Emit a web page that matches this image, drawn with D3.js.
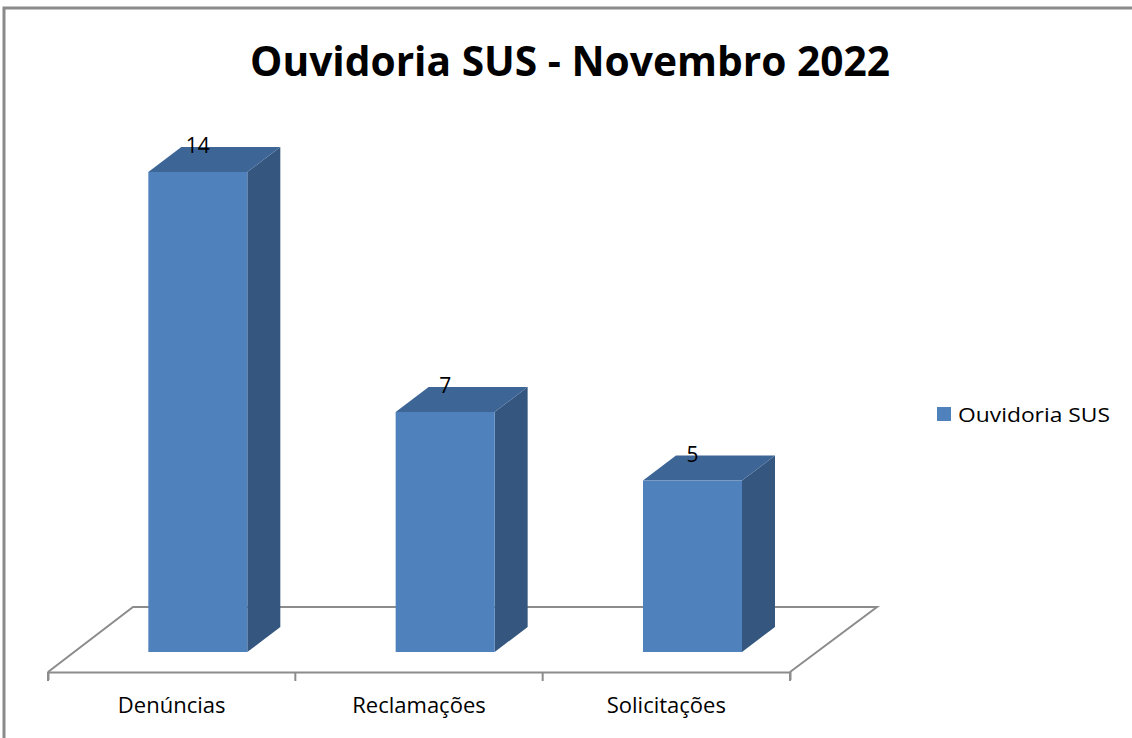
<!DOCTYPE html>
<html><head><meta charset="utf-8">
<script src="https://cdn.jsdelivr.net/npm/d3@7"></script>
<style>body{margin:0;background:#fff}svg{display:block}</style>
</head><body>
<svg id="c" width="1132" height="738"></svg>
<script>
const categories = ["Denúncias", "Reclamações", "Solicitações"];
const values = [14, 7, 5];
const seriesName = "Ouvidoria SUS";
const title = "Ouvidoria SUS - Novembro 2022";

const svg = d3.select("#c");
const font = "Open Sans, Liberation Sans, sans-serif";
// border
svg.append("path").attr("d","M4,1000 V8 H1140").attr("fill","none").attr("stroke","#8a8a8a").attr("stroke-width",3);

// floor geometry
const fx0 = 48, fx1 = 790, fy = 672, fdx = 85, fdy = -65;
const xa = d3.scaleBand().domain(categories).range([fx0, fx1]);
const baseY = 652, frac = 20/65;
const shiftX = fdx*frac;
const y = d3.scaleLinear().domain([0, 14]).range([baseY, 172]);
const bdx = 33, bdy = -25;

// floor
svg.append("path")
  .attr("d", `M${fx0},${fy} L${fx0+fdx},${fy+fdy} L${fx1+fdx+2},${fy+fdy} L${fx1},${fy}`)
  .attr("fill","none").attr("stroke","#8c8c8c").attr("stroke-width",2);
// axis
const axis = d3.axisBottom(xa).tickSize(8).tickSizeOuter(8).tickFormat(d=>d);
const ag = svg.append("g").attr("transform",`translate(0,${fy})`).call(axis);
ag.select(".domain").attr("stroke","#8c8c8c").attr("stroke-width",2);
ag.selectAll(".tick line").remove();
const tickXs = [0,1,2,3].map(i => fx0 + i*xa.step());
ag.selectAll(".tk").data(tickXs).join("line").attr("class","tk")
  .attr("x1",d=>d).attr("x2",d=>d).attr("y1",0).attr("y2",9)
  .attr("stroke","#8c8c8c").attr("stroke-width",2);
ag.selectAll(".tick text").attr("font-family",font).attr("font-size",22).attr("fill","#000").attr("dy","0").attr("y",41);

// bars
const bw = 99;
const g = svg.append("g");
values.forEach((v,i)=>{
  const cx = xa(categories[i]) + xa.bandwidth()/2 + shiftX;
  const x0 = cx - bw/2, x1 = cx + bw/2;
  const yt = y(v), yb = y(0);
  g.append("path").attr("d",`M${x1},${yt} L${x1+bdx},${yt+bdy} L${x1+bdx},${yb+bdy} L${x1},${yb} Z`).attr("fill","#34567f");
  g.append("path").attr("d",`M${x0},${yt} L${x0+bdx},${yt+bdy} L${x1+bdx},${yt+bdy} L${x1},${yt} Z`).attr("fill","#3d6696");
  g.append("rect").attr("x",x0).attr("y",yt).attr("width",bw).attr("height",yb-yt).attr("fill","#4f81bd");
  g.append("text").attr("x",cx).attr("y",yt-19).attr("text-anchor","middle")
    .attr("font-family",font).attr("font-size",21).attr("fill","#000").text(v);
});

// title
svg.append("text").attr("x",570).attr("y",76).attr("text-anchor","middle")
  .attr("font-family",font).attr("font-weight","bold").attr("font-size",41).attr("fill","#000")
  .attr("textLength",640).attr("lengthAdjust","spacingAndGlyphs").text(title);

// legend
svg.append("rect").attr("x",937).attr("y",407).attr("width",14).attr("height",14).attr("fill","#4f81bd");
svg.append("text").attr("x",958).attr("y",422).attr("font-family",font).attr("font-size",20).attr("fill","#000")
  .attr("textLength",152).attr("lengthAdjust","spacingAndGlyphs").text(seriesName);
</script>
</body></html>
